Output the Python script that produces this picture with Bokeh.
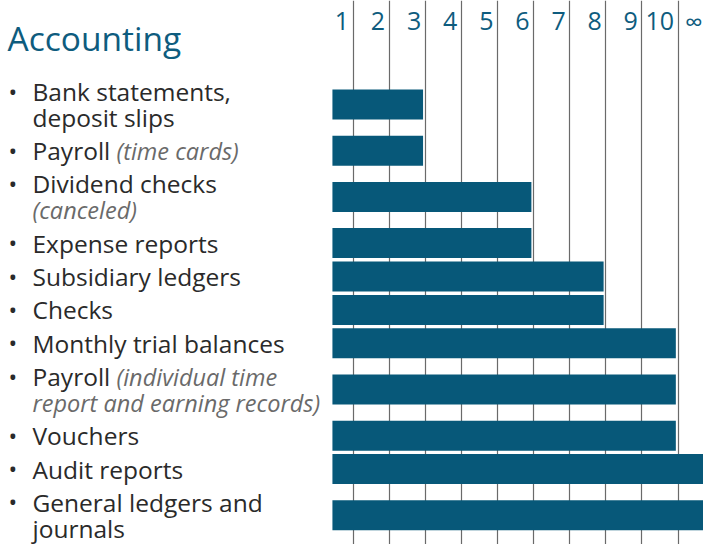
from bokeh.plotting import figure
from bokeh.models import Range1d, FixedTicker
from bokeh.core.properties import value
from bokeh.embed import file_html
from bokeh.resources import INLINE

# ---- data ----
title = "Accounting"
items = ["Bank statements,\ndeposit slips", "Payroll", "Dividend checks",
         "Expense reports", "Subsidiary ledgers", "Checks",
         "Monthly trial balances", "Payroll", "Vouchers", "Audit reports",
         "General ledgers and\njournals"]
notes = ["", "(time cards)", "\n(canceled)", "", "", "", "",
         "(individual time\nreport and earning records)", "", "", ""]
# retention in years; 11 stands for the "∞" (permanent) column
retention_years = [3, 3, 6, 6, 8, 8, 10, 10, 10, 11, 11]
column_ticks = [1, 2, 3, 4, 5, 6, 7, 8, 9, 10]
column_labels = ["1", "2", "3", "4", "5", "6", "7", "8", "9", "10"]
permanent_label = "∞"

# ---- style ----
FONT = "Open Sans"
TEAL = "#0e5c7e"
BAR = "#075879"
TEXT = "#2a2a2a"
NOTE = "#6a6a6a"
W, H = 703, 544
PX0, PXU = 316.4, 36.11          # screen x of value 0, px per year
X0, X1 = -PX0 / PXU, (W - PX0) / PXU
LINE_H = 26
SINGLE, DOUBLE = 33.4, 59
FIRST_TOP = 74.5
TEXT_X = 32
NOTE_X = 116

p = figure(width=W, height=H, output_backend="svg", toolbar_location=None,
           x_range=Range1d(X0, X1), y_range=Range1d(H, 0),
           min_border=0, outline_line_color=None)
p.axis.visible = False
p.ygrid.visible = False
p.xgrid.ticker = FixedTicker(ticks=column_ticks)
p.xgrid.grid_line_color = "#6a6a6a"
p.xgrid.grid_line_width = 1.2

# layout of rows from line counts
n_lines = [max(len(m.split("\n")), len(n.split("\n"))) for m, n in zip(items, notes)]
centers = []
top = FIRST_TOP
for n in n_lines:
    h = SINGLE if n == 1 else DOUBLE
    centers.append(top + h / 2)
    top += h

rights = [r - 0.06 for r in retention_years]
p.hbar(y=centers, left=0.43, right=rights, height=30,
       fill_color=BAR, line_color=None)

# text lines
main_y, main_t, note_y, note_t, note_off, bul_y = [], [], [], [], [], []
for c, n, m, nt in zip(centers, n_lines, items, notes):
    ml = m.split("\n")
    nl = nt.split("\n")
    for j in range(n):
        y = c + (j - (n - 1) / 2) * LINE_H
        mt = ml[j] if j < len(ml) else ""
        ntx = nl[j] if j < len(nl) else ""
        if mt:
            main_y.append(y); main_t.append(mt)
        if ntx:
            note_y.append(y); note_t.append(ntx)
            note_off.append(NOTE_X if mt else TEXT_X)
    bul_y.append(c - (n - 1) / 2 * LINE_H)

p.text(x=[X0] * len(main_y), y=main_y, text=main_t, x_offset=TEXT_X,
       text_font=value(FONT), text_font_size="24.5px", text_color=TEXT,
       text_baseline="middle", text_align="left")
p.text(x=[X0] * len(note_y), y=note_y, text=note_t, x_offset=note_off,
       text_font=value(FONT), text_font_size="23.5px", text_color=NOTE,
       text_font_style="italic", text_baseline="middle", text_align="left")
p.text(x=[X0] * len(bul_y), y=bul_y, text=["•"] * len(bul_y), x_offset=8,
       text_font=value(FONT), text_font_size="23px", text_color=TEXT,
       text_baseline="middle", text_align="left")

# title
p.text(x=[X0], y=[37], text=[title], x_offset=7,
       text_font=value(FONT), text_font_size="33.5px", text_color=TEAL,
       text_baseline="middle", text_align="left")

# column headers
p.text(x=column_ticks, y=[20] * len(column_ticks), text=column_labels,
       x_offset=-4, text_font=value(FONT), text_font_size="25px",
       text_color=TEAL, text_baseline="middle", text_align="right")
p.text(x=[X1], y=[20], text=[permanent_label], x_offset=-1,
       text_font=value(FONT), text_font_size="25px",
       text_color=TEAL, text_baseline="middle", text_align="right")

open("out.html", "w").write(file_html(p, INLINE))
